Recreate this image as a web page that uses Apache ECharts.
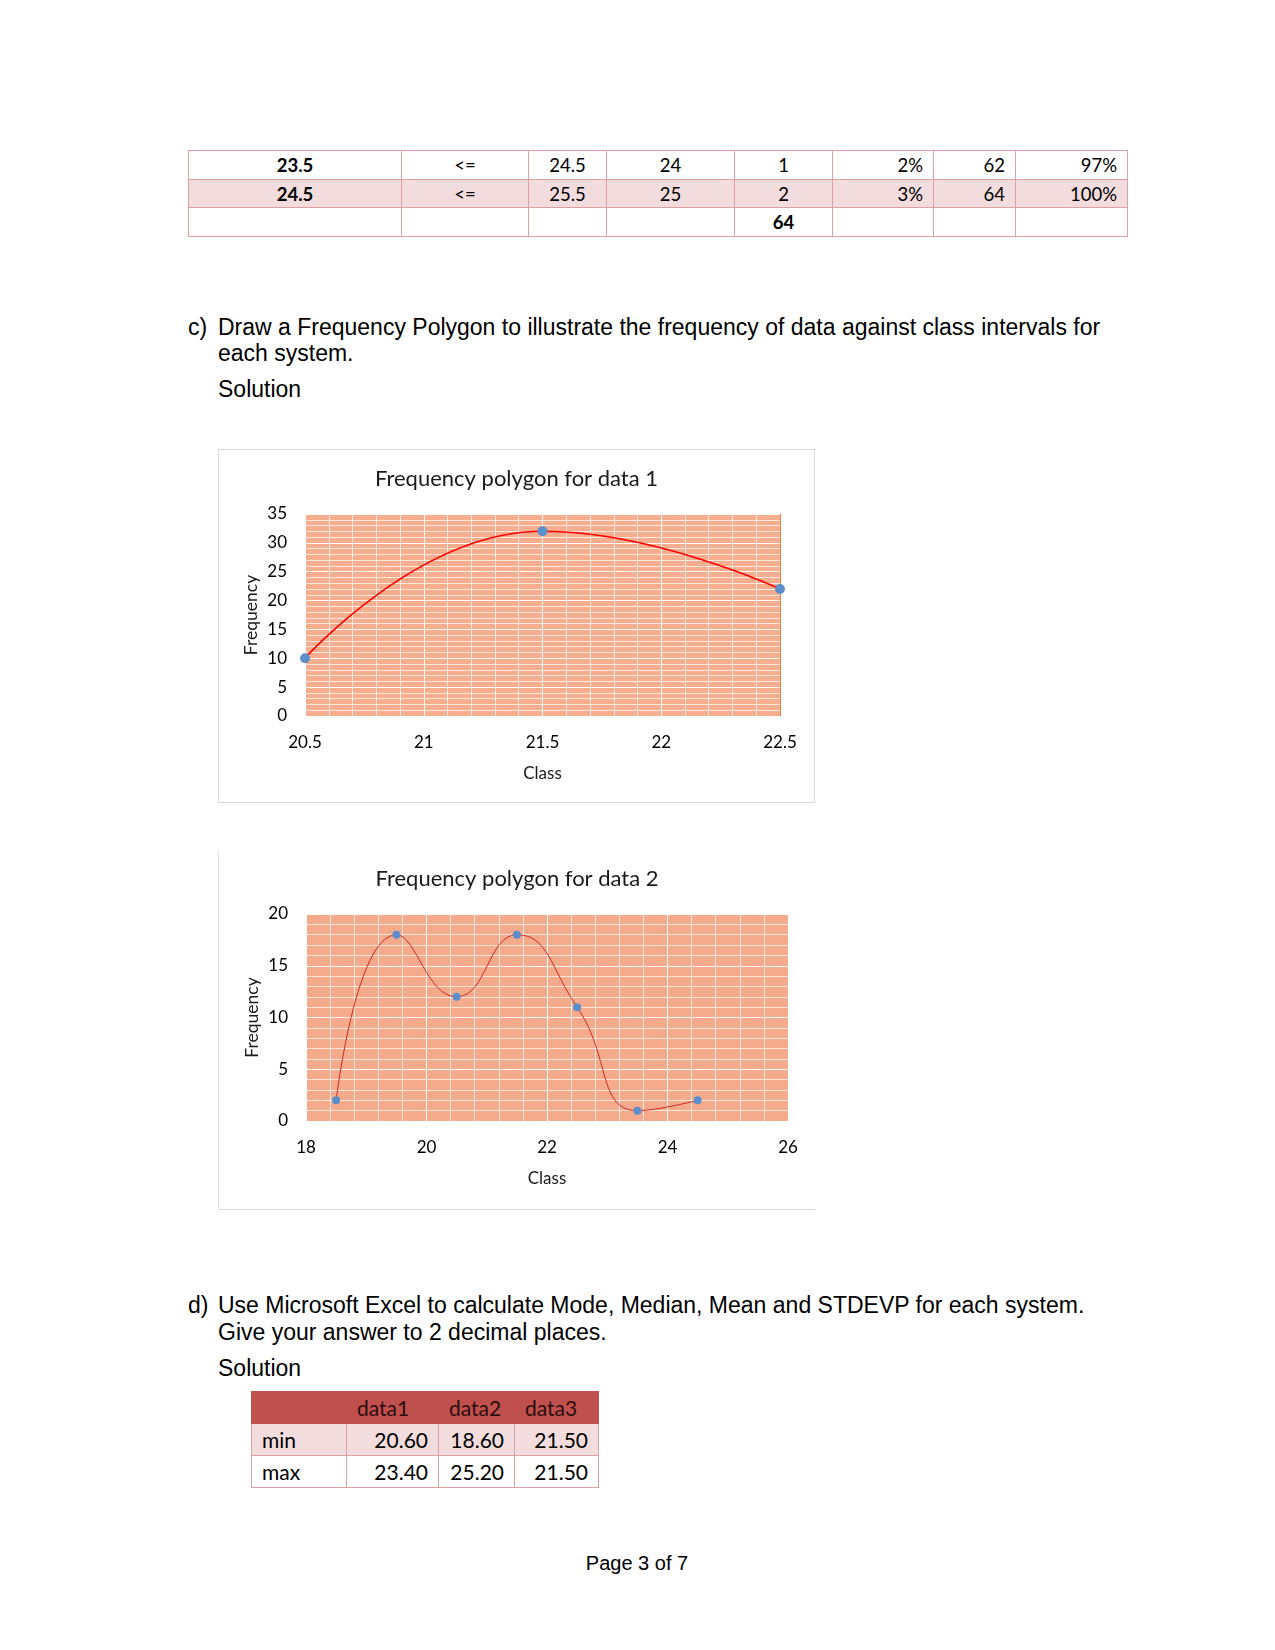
<!DOCTYPE html>
<html>
<head>
<meta charset="utf-8">
<script src="https://cdn.jsdelivr.net/npm/echarts@6/dist/echarts.min.js"></script>
<style>
  html, body { margin: 0; padding: 0; background: #fff; }
  .page { position: relative; width: 1275px; height: 1650px; overflow: hidden; }
  .txt { position: absolute; font-family: "Liberation Sans", Arial, sans-serif; font-size: 23px; line-height: 24px; color: #000; white-space: nowrap; }
  table { position: absolute; border-collapse: collapse; font-family: Lato, "Open Sans", sans-serif; color: #000; }
  .top td { border: 1px solid #dba0a3; font-size: 18.5px; padding: 0 10px; }
  .bot td { border: 1px solid #dba0a3; font-size: 21px; padding: 0 10px; }
  .pink td { background: #f2dcdd; }
  .chartbox { position: absolute; box-sizing: border-box; }
</style>
</head>
<body>
<div class="page">
  <table class="top" id="topTable" style="left:188px; top:150px;"></table>

  <div class="txt" style="left:188px; top:315px;">c)</div>
  <div class="txt" style="left:218px; top:315px;">Draw a Frequency Polygon to illustrate the frequency of data against class intervals for</div>
  <div class="txt" style="left:218px; top:341px;">each system.</div>
  <div class="txt" style="left:218px; top:377px;">Solution</div>

  <div class="chartbox" id="chart1" style="left:218px; top:449px; width:597px; height:354px; border:1px solid #d9d9d9;"></div>
  <div class="chartbox" id="chart2" style="left:218px; top:850px; width:597px; height:360px; border-left:1px solid #e3e3e3; border-bottom:1px solid #d9d9d9;"></div>

  <div class="txt" style="left:188px; top:1293px;">d)</div>
  <div class="txt" style="left:218px; top:1293px;">Use Microsoft Excel to calculate Mode, Median, Mean and STDEVP for each system.</div>
  <div class="txt" style="left:218px; top:1320px;">Give your answer to 2 decimal places.</div>
  <div class="txt" style="left:218px; top:1356px;">Solution</div>

  <table class="bot" id="botTable" style="left:251px; top:1391px;"></table>

  <div class="txt" style="left:537px; width:200px; text-align:center; top:1551px; font-size:20px;">Page 3 of 7</div>
</div>

<script>
// table rows at top of page (end of the frequency table)
const topRows = [
  ["23.5", "<=", "24.5", "24", "1", "2%", "62", "97%"],
  ["24.5", "<=", "25.5", "25", "2", "3%", "64", "100%"],
  ["", "", "", "", "64", "", "", ""]
];
const topWidths = [213, 127, 78, 128, 98, 101, 82, 112];
const topAlign = ["center", "center", "center", "center", "center", "right", "right", "right"];

// summary table
const statCols = ["data1", "data2", "data3"];
const statMin = ["20.60", "18.60", "21.50"];
const statMax = ["23.40", "25.20", "21.50"];

// chart 1 data + tick labels
const classes1 = [20.5, 21.5, 22.5];
const freq1 = [10, 32, 22];
const xLabels1 = [20.5, 21, 21.5, 22, 22.5];
const yLabels1 = [0, 5, 10, 15, 20, 25, 30, 35];

// chart 2 data + tick labels
const classes2 = [18.5, 19.5, 20.5, 21.5, 22.5, 23.5, 24.5];
const freq2 = [2, 18, 12, 18, 11, 1, 2];
const xLabels2 = [18, 20, 22, 24, 26];
const yLabels2 = [0, 5, 10, 15, 20];

// build top table
(function () {
  const t = document.getElementById("topTable");
  const heights = [29, 28, 29];
  topRows.forEach((row, r) => {
    const tr = document.createElement("tr");
    if (r === 1) tr.className = "pink";
    row.forEach((v, c) => {
      const td = document.createElement("td");
      td.textContent = v;
      td.style.width = (topWidths[c] - 21) + "px";
      td.style.height = (heights[r] - 1) + "px";
      td.style.textAlign = topAlign[c];
      if (c === 0 || (r === 2 && c === 4)) td.style.fontWeight = "bold";
      tr.appendChild(td);
    });
    t.appendChild(tr);
  });
})();

// build bottom table
(function () {
  const t = document.getElementById("botTable");
  const widths = [95, 92, 76, 84];
  const rows = [[""].concat(statCols), ["min"].concat(statMin), ["max"].concat(statMax)];
  rows.forEach((row, r) => {
    const tr = document.createElement("tr");
    if (r === 1) tr.className = "pink";
    row.forEach((v, c) => {
      const td = document.createElement("td");
      td.textContent = v;
      td.style.width = (widths[c] - 21) + "px";
      td.style.height = "31px";
      td.style.textAlign = (r === 0 || c === 0) ? "left" : "right";
      if (r === 0) {
        td.style.background = "#c0504d";
        td.style.borderColor = "#c0504d";
        td.style.color = "#2b0d0d";
      }
      tr.appendChild(td);
    });
    t.appendChild(tr);
  });
})();

const font = "Lato";
// major line brighter, 4 minor lines softer
const gridColors = ["rgba(255,255,255,0.95)", "rgba(255,255,255,0.7)", "rgba(255,255,255,0.7)", "rgba(255,255,255,0.7)", "rgba(255,255,255,0.7)"];

function onlyLabels(list) {
  return v => {
    const hit = list.find(l => Math.abs(l - v) < 1e-6);
    return hit === undefined ? "" : String(hit);
  };
}

function polygonOption(title, xs, ys, x, y, look) {
  return {
    animation: false,
    title: {
      text: title,
      left: "center",
      top: look.titleTop,
      textStyle: { fontFamily: font, fontSize: 22, fontWeight: "normal", color: "#1a1a1a" }
    },
    grid: {
      left: look.grid[0], right: look.grid[1], top: look.grid[2], bottom: look.grid[3],
      show: true, backgroundColor: look.bg, borderWidth: 0
    },
    xAxis: {
      type: "value",
      min: x.min, max: x.max, interval: x.step,
      name: "Class", nameLocation: "middle", nameGap: 49, nameMoveOverlap: false,
      nameTextStyle: { fontFamily: font, fontSize: 17, color: "#1a1a1a" },
      axisLine: { show: false },
      axisTick: { show: false },
      axisLabel: { fontFamily: font, fontSize: 17, color: "#000", margin: 18, formatter: onlyLabels(x.labels) },
      splitLine: { show: true, lineStyle: { color: gridColors, width: 1 } }
    },
    yAxis: [
      {
        type: "value",
        min: y.min, max: y.max, interval: y.step,
        name: "Frequency", nameLocation: "middle", nameGap: 45, nameMoveOverlap: false,
        nameTextStyle: { fontFamily: font, fontSize: 17.5, color: "#1a1a1a" },
        axisLine: { show: false },
        axisTick: { show: false },
        axisLabel: { fontFamily: font, fontSize: 17, color: "#000", margin: 18, formatter: onlyLabels(y.labels) },
        splitLine: { show: true, lineStyle: { color: gridColors, width: 1 } }
      },
      {
        type: "value", position: "right",
        min: y.min, max: y.max, interval: y.step,
        axisLine: { show: look.rightEdge, lineStyle: { color: "#e8843f", width: 1 } },
        axisTick: { show: false }, axisLabel: { show: false }, splitLine: { show: false }
      }
    ],
    series: [{
      type: "line",
      smooth: 0.5,
      data: xs.map((v, i) => [v, ys[i]]),
      symbol: "circle",
      symbolSize: look.dot,
      itemStyle: { color: "#5b8fcb" },
      lineStyle: { color: look.line, width: look.lineWidth }
    }]
  };
}

const c1 = echarts.init(document.getElementById("chart1"));
c1.setOption(polygonOption("Frequency polygon for data 1", classes1, freq1,
  { min: 20.5, max: 22.5, step: 0.1, labels: xLabels1 },
  { min: 0, max: 35, step: 1, labels: yLabels1 },
  { titleTop: 13, grid: [86, 34, 64, 86], bg: "#f6ae8f", dot: 10, line: "#ff0000", lineWidth: 1.6, rightEdge: true }));

const c2 = echarts.init(document.getElementById("chart2"));
c2.setOption(polygonOption("Frequency polygon for data 2", classes2, freq2,
  { min: 18, max: 26, step: 0.4, labels: xLabels2 },
  { min: 0, max: 20, step: 1, labels: yLabels2 },
  { titleTop: 13, grid: [87, 27, 64, 88], bg: "#f4aa8b", dot: 8, line: "#cc2a1e", lineWidth: 1, rightEdge: false }));
</script>
</body>
</html>
